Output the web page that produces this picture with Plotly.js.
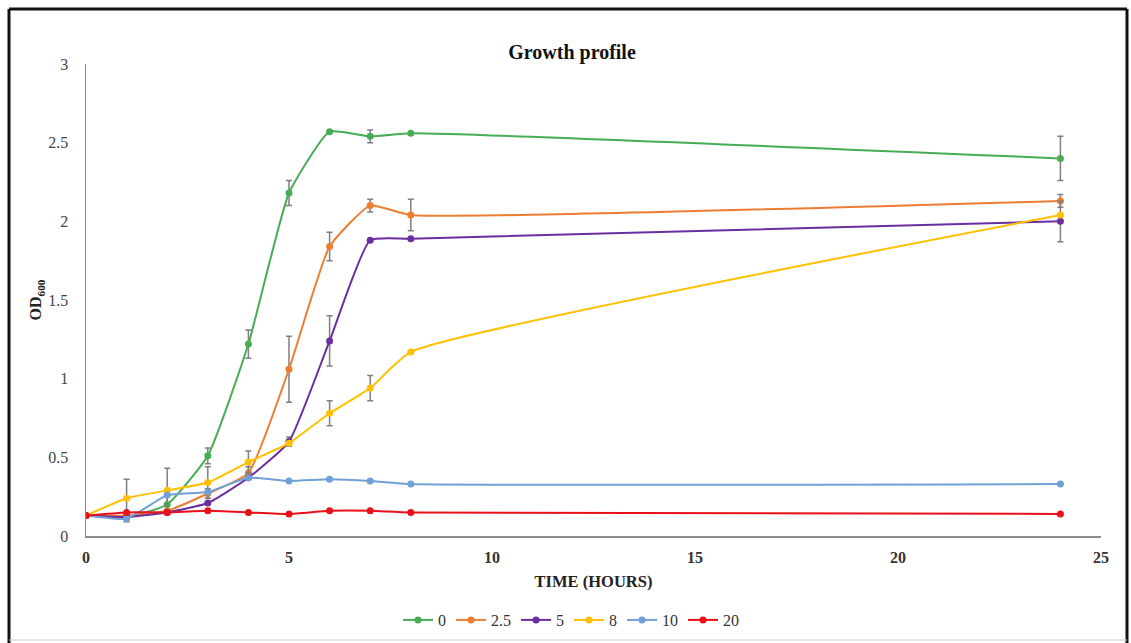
<!DOCTYPE html>
<html>
<head>
<meta charset="utf-8">
<script src="https://cdn.plot.ly/plotly-3.0.1.min.js"></script>
<style>
html,body{margin:0;padding:0;background:#fff;}
#chart{width:1131px;height:643px;}
</style>
</head>
<body>
<div id="chart"></div>
<script>
// Time points (hours)
const timeHours = [0, 1, 2, 3, 4, 5, 6, 7, 8, 24];

// Series names (concentrations)
const seriesNames = ["0", "2.5", "5", "8", "10", "20"];

// OD600 values
const od_0   = [0.13, 0.12, 0.20, 0.51, 1.22, 2.18, 2.57, 2.54, 2.56, 2.40];
const od_2_5 = [0.13, 0.13, 0.16, 0.27, 0.40, 1.06, 1.84, 2.10, 2.04, 2.13];
const od_5   = [0.13, 0.12, 0.15, 0.21, 0.37, 0.60, 1.24, 1.88, 1.89, 2.00];
const od_8   = [0.13, 0.24, 0.29, 0.34, 0.47, 0.59, 0.78, 0.94, 1.17, 2.04];
const od_10  = [0.13, 0.11, 0.26, 0.28, 0.37, 0.35, 0.36, 0.35, 0.33, 0.33];
const od_20  = [0.13, 0.15, 0.15, 0.16, 0.15, 0.14, 0.16, 0.16, 0.15, 0.14];

// Error values (SD)
const err_0   = [0, 0, 0.06, 0.05, 0.09, 0.08, 0, 0.04, 0, 0.14];
const err_2_5 = [0, 0, 0, 0.03, 0.04, 0.21, 0.09, 0.04, 0.10, 0.04];
const err_5   = [0, 0, 0, 0, 0, 0.03, 0.16, 0, 0, 0.13];
const err_8   = [0, 0.12, 0.14, 0.10, 0.07, 0, 0.08, 0.08, 0, 0];
const err_10  = [0, 0.02, 0, 0, 0, 0, 0, 0, 0, 0];
const err_20  = [0, 0, 0, 0, 0, 0, 0, 0, 0, 0];

const colors = ["#47ad55", "#ed7d31", "#6a2ea0", "#ffc000", "#6fa0d6", "#e8101a"];
const values = [od_0, od_2_5, od_5, od_8, od_10, od_20];
const errors = [err_0, err_2_5, err_5, err_8, err_10, err_20];

const traces = seriesNames.map((name, i) => ({
  x: timeHours,
  y: values[i],
  name: name,
  type: "scatter",
  mode: "lines+markers",
  line: {color: colors[i], width: 2, shape: "spline", smoothing: 0.45},
  marker: {color: colors[i], size: 7, symbol: "circle"},
  error_y: {type: "data", array: errors[i], visible: true, color: "#7f7f7f", thickness: 1.5, width: 3}
}));

const serif = "Liberation Serif, Times New Roman, serif";

const layout = {
  width: 1131,
  height: 643,
  margin: {l: 86, r: 30, t: 64, b: 107},
  paper_bgcolor: "#ffffff",
  plot_bgcolor: "#ffffff",
  showlegend: true,
  title: {
    text: "<b>Growth profile</b>",
    font: {family: serif, size: 20, color: "#111"},
    x: 572 / 1131, xref: "container", xanchor: "center",
    y: 1 - 52 / 643, yref: "container", yanchor: "middle"
  },
  xaxis: {
    range: [0, 25],
    tickvals: [0, 5, 10, 15, 20, 25],
    showgrid: false,
    zeroline: false,
    showline: true,
    linecolor: "#8c8c8c",
    linewidth: 1.5,
    ticks: "",
    tickfont: {family: serif, size: 16, color: "#333", weight: "bold"},
    ticklabelstandoff: 6,
    title: {text: "<b>TIME (HOURS)</b>", font: {family: serif, size: 16.5, color: "#222"}, standoff: 10}
  },
  yaxis: {
    range: [0, 3],
    tickvals: [0, 0.5, 1, 1.5, 2, 2.5, 3],
    ticktext: ["0", "0.5", "1", "1.5", "2", "2.5", "3"],
    showgrid: false,
    zeroline: false,
    showline: true,
    linecolor: "#8c8c8c",
    linewidth: 1.5,
    ticks: "",
    tickfont: {family: serif, size: 16, color: "#444"},
    ticklabelstandoff: 13,
    title: {text: "<b>OD<sub>600</sub></b>", font: {family: serif, size: 16, color: "#222"}, standoff: 2}
  },
  legend: {
    orientation: "h",
    x: 571 / 1131, xref: "container", xanchor: "center",
    y: 1 - 620 / 643, yref: "container", yanchor: "middle",
    font: {family: serif, size: 16, color: "#333"},
    itemwidth: 30,
    tracegroupgap: 0
  },
  shapes: [
    // outer frame of the figure
    {type: "line", xref: "paper", yref: "paper", x0: (9 - 86) / 1015, x1: (9 - 86) / 1015, y0: (536 - 9) / 472, y1: (536 - 643) / 472, line: {color: "#111", width: 3}},
    {type: "line", xref: "paper", yref: "paper", x0: (9 - 86) / 1015, x1: (1127 - 86) / 1015, y0: (536 - 9) / 472, y1: (536 - 9) / 472, line: {color: "#111", width: 3}},
    {type: "line", xref: "paper", yref: "paper", x0: (1127 - 86) / 1015, x1: (1127 - 86) / 1015, y0: (536 - 9) / 472, y1: (536 - 643) / 472, line: {color: "#111", width: 3}},
    {type: "line", xref: "paper", yref: "paper", x0: (9 - 86) / 1015, x1: (1127 - 86) / 1015, y0: (536 - 640) / 472, y1: (536 - 640) / 472, line: {color: "#d0d0d0", width: 1}}
  ]
};

Plotly.newPlot("chart", traces, layout, {displayModeBar: false, staticPlot: true});
</script>
</body>
</html>
